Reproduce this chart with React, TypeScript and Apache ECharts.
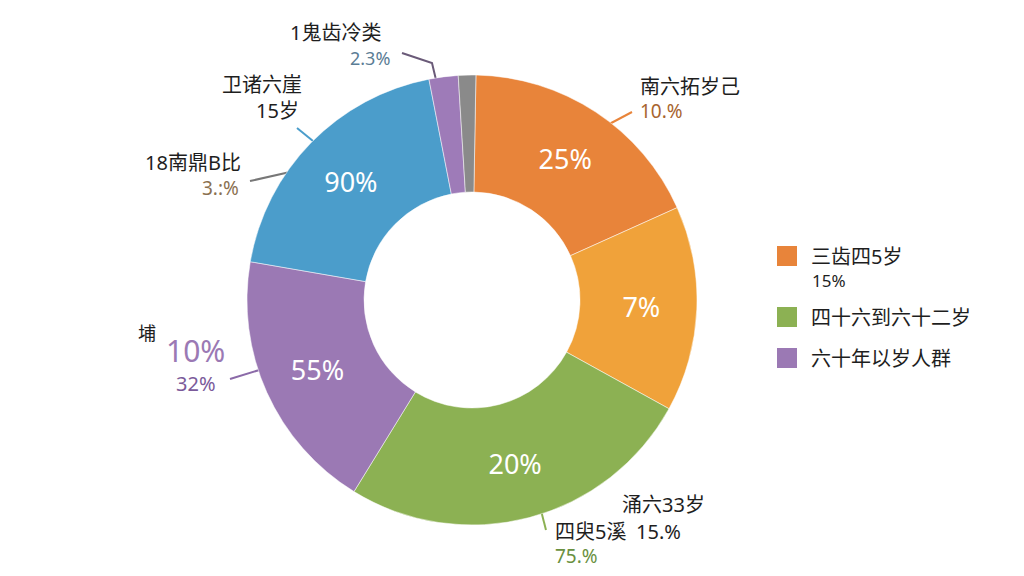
import React, { useEffect, useRef } from "react";
import * as echarts from "echarts";

const sliceNames = ["三齿四5岁", "南六拓岁己", "四十六到六十二岁", "六十年以岁人群", "卫诸六崖", "1鬼齿冷类", "其他"];
const sliceValues = [64.6, 53, 92.5, 68, 69, 7.5, 4.5];
const sliceLabels = ["25%", "7%", "20%", "55%", "90%", "", ""];
const sliceColors = ["#E8843A", "#F0A23A", "#8CB153", "#9B79B4", "#4B9DCB", "#9E7BB8", "#8A8A8A"];
const legendNames = ["三齿四5岁", "四十六到六十二岁", "六十年以岁人群"];
const legendExtra = "15%";

const FONT = "'Noto Sans', 'Noto Sans CJK SC', sans-serif";

function txt(x: number, y: number, text: string, size: number, color: string) {
  return {
    type: "text",
    x,
    y,
    style: { text, fontSize: size, fill: color, fontFamily: FONT, verticalAlign: "middle", align: "left" },
  };
}
function ln(points: number[][], color: string) {
  return { type: "polyline", shape: { points }, style: { stroke: color, lineWidth: 2, fill: null } };
}

export default function App() {
  const ref = useRef<HTMLDivElement>(null);
  useEffect(() => {
    const chart = echarts.init(ref.current!, null, { renderer: "svg" });
    const legendTops = [244, 305, 346];
    chart.setOption({
      animation: false,
      backgroundColor: "#ffffff",
      legend: legendNames.map((n, i) => ({
        data: [n],
        left: 770,
        top: legendTops[i] - 5,
        orient: "vertical",
        icon: "rect",
        itemWidth: 22,
        itemHeight: 22,
        selectedMode: false,
        textStyle: { fontSize: 20, color: "#1e1e1e", fontFamily: FONT, padding: [0, 0, 0, 8] },
      })),
      series: [
        {
          type: "pie",
          center: [472, 300],
          radius: [108, 225],
          startAngle: 89,
          avoidLabelOverlap: false,
          itemStyle: { borderColor: "#ffffff", borderWidth: 0.5 },
          label: {
            show: true,
            position: "inside",
            color: "#ffffff",
            fontSize: 27,
            fontFamily: FONT,
            formatter: (p: any) => sliceLabels[p.dataIndex],
          },
          labelLine: { show: false },
          data: sliceNames.map((n, i) => ({ name: n, value: sliceValues[i], itemStyle: { color: sliceColors[i] } })),
        },
      ],
      graphic: [
        txt(812, 280, legendExtra, 17, "#1e1e1e"),
        txt(290, 32, "1鬼齿冷类", 20, "#1e1e1e"),
        txt(350, 58, "2.3%", 18, "#5b7d95"),
        ln([[402, 53], [432, 63], [437, 84]], "#6a5a78"),
        txt(640, 86, "南六拓岁己", 20, "#1e1e1e"),
        txt(640, 111, "10.%", 19, "#a8642e"),
        ln([[632, 112], [598, 130]], "#E8843A"),
        txt(222, 84, "卫诸六崖", 20, "#1e1e1e"),
        txt(256, 110, "15岁", 20, "#1e1e1e"),
        ln([[297, 128], [313, 141]], "#4B9DCB"),
        txt(145, 162, "18南鼎B比", 20, "#1e1e1e"),
        txt(202, 188, "3.:%", 19, "#8a7050"),
        ln([[250, 181], [290, 172]], "#777777"),
        txt(138, 333, "埔", 18, "#1e1e1e"),
        txt(166, 350, "10%", 30, "#9B79B4"),
        txt(176, 383, "32%", 20, "#7b5a9a"),
        ln([[230, 379], [266, 368]], "#8b6aa8"),
        txt(622, 504, "涌六33岁", 20, "#1e1e1e"),
        txt(555, 531, "四臾5溪", 20, "#1e1e1e"),
        txt(636, 531, "15.%", 20, "#1e1e1e"),
        txt(555, 556, "75.%", 19, "#6a9040"),
        ln([[537, 495], [546, 530]], "#8CB153"),
      ],
    });
    return () => chart.dispose();
  }, []);
  return <div ref={ref} style={{ width: 1024, height: 576, position: "absolute", left: 0, top: 0 }} />;
}
